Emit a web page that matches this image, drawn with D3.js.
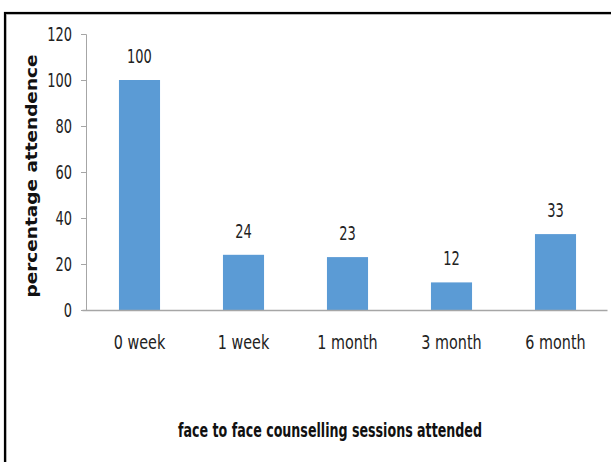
<!DOCTYPE html>
<html>
<head>
<meta charset="utf-8">
<script src="https://cdn.jsdelivr.net/npm/d3@7"></script>
<style>
  html, body { margin: 0; padding: 0; background: #fff; }
  svg { display: block; }
</style>
</head>
<body>
<svg id="chart" width="611" height="462"></svg>
<script>
// Attendance by follow-up point
const categories = ["0 week", "1 week", "1 month", "3 month", "6 month"];
const attendance = [100, 24, 23, 12, 33];
const yTicks = [0, 20, 40, 60, 80, 100, 120];

const svg = d3.select("#chart");
const font = '"DejaVu Sans Condensed", "Liberation Sans Narrow", "Open Sans", sans-serif';
const SQUEEZE_DIGITS = 0.76;
const SQUEEZE_WORDS = 0.84;

// narrow the glyphs horizontally to a condensed look
function squeeze(sel, factor) {
  sel.each(function () {
    const w = this.getComputedTextLength();
    d3.select(this).attr("textLength", w * factor).attr("lengthAdjust", "spacingAndGlyphs");
  });
}

// outer frame with soft shadow
svg.append("rect").attr("x", 6).attr("y", 14).attr("width", 620).attr("height", 470)
  .attr("fill", "none").attr("stroke", "#c8c8c8").attr("stroke-width", 2);
svg.append("rect").attr("x", 5).attr("y", 13).attr("width", 620).attr("height", 470)
  .attr("fill", "none").attr("stroke", "#000").attr("stroke-width", 2.2);

const plot = { left: 87.5, right: 607.5, top: 34, bottom: 310 };

const x = d3.scaleBand().domain(categories).range([plot.left, plot.right]).paddingInner(0.605).paddingOuter(0.3025);
const y = d3.scaleLinear().domain([0, 120]).range([plot.bottom, plot.top]);

// y axis
const yAxis = svg.append("g").attr("transform", `translate(${plot.left - 1.5},0)`)
  .call(d3.axisLeft(y).tickValues(yTicks).tickSize(5).tickPadding(9));
yAxis.select(".domain").attr("stroke", "#a6a6a6");
yAxis.selectAll(".tick line").attr("stroke", "#a6a6a6");
yAxis.selectAll(".tick text").attr("font-family", font).attr("font-size", 19).attr("fill", "#222")
  .attr("dy", "0.36em").call(squeeze, SQUEEZE_DIGITS);

// bars
svg.append("g").selectAll("rect").data(attendance).join("rect")
  .attr("x", (d, i) => x(categories[i]))
  .attr("y", d => y(d))
  .attr("width", x.bandwidth())
  .attr("height", d => y(0) - y(d))
  .attr("fill", "#5b9bd5");

// x axis
const xAxis = svg.append("g").attr("transform", `translate(0,${plot.bottom})`)
  .call(d3.axisBottom(x).tickSize(0).tickPadding(26));
xAxis.select(".domain").attr("stroke", "#a6a6a6").attr("stroke-width", 1.5)
  .attr("d", `M${plot.left - 5},0.5H${plot.right}`);
xAxis.selectAll(".tick text").attr("font-family", font).attr("font-size", 19).attr("fill", "#222")
  .call(squeeze, SQUEEZE_WORDS);

// value labels
svg.append("g").selectAll("text").data(attendance).join("text")
  .attr("x", (d, i) => x(categories[i]) + x.bandwidth() / 2)
  .attr("y", d => y(d) - 17)
  .attr("text-anchor", "middle")
  .attr("font-family", font).attr("font-size", 19).attr("fill", "#222")
  .text(d => d)
  .call(squeeze, SQUEEZE_DIGITS);

// axis titles
svg.append("text")
  .attr("x", 330).attr("y", 437)
  .attr("text-anchor", "middle")
  .attr("font-family", font).attr("font-size", 19).attr("font-weight", "bold").attr("fill", "#111")
  .attr("textLength", 304).attr("lengthAdjust", "spacingAndGlyphs")
  .text("face to face counselling sessions attended");

svg.append("text")
  .attr("transform", "translate(37,176) rotate(-90)")
  .attr("text-anchor", "middle")
  .attr("font-family", "'DejaVu Sans', 'Open Sans', sans-serif").attr("font-size", 16).attr("font-weight", "bold").attr("fill", "#111")
  .attr("textLength", 243).attr("lengthAdjust", "spacingAndGlyphs")
  .text("percentage attendence");
</script>
</body>
</html>
